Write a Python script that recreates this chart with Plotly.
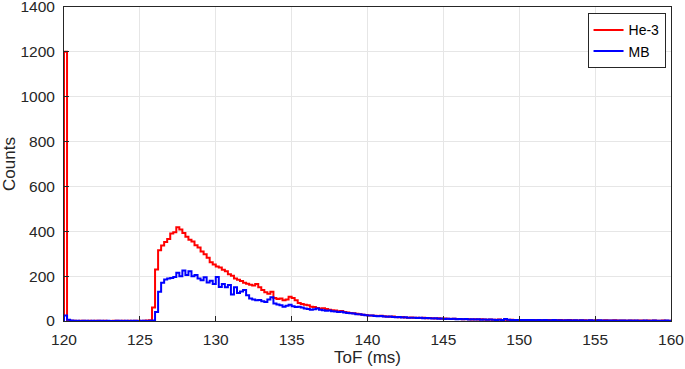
import plotly.graph_objects as go

BIN_START = 120.0
BIN_WIDTH = 0.2

he3_counts = (
    [1200]
    + [2, 1, 1, 0, 1, 1, 0, 1, 0, 1, 1, 0, 1, 0, 0, 1, 1, 0, 1, 0, 1, 0, 1, 1, 0, 1, 2, 3]
    + [60]
    + [230, 315, 337, 352, 366, 390, 396, 418, 408, 392,
       376, 362, 355, 338, 328, 310, 298, 282, 262, 252,
       243, 238, 228, 222, 208, 202, 190, 184, 178, 170,
       166, 162, 158, 165, 150, 138, 128, 122, 130, 102,
       98, 100, 92, 96, 108, 102, 92, 80, 76, 72,
       70, 64, 62, 58, 56, 57, 53, 50, 48, 47,
       44, 45, 40, 38, 36, 34, 32, 30, 28, 27]
    + [25, 24, 23, 22, 23, 21, 20, 19, 20, 18,
       17, 18, 16, 15, 16, 14, 15, 13, 14, 12,
       13, 12, 11, 12, 10, 11, 10, 9, 10, 9,
       9, 8, 9, 8, 7, 8, 7, 8, 7, 6,
       7, 6, 6, 7, 5, 6, 5, 6, 5, 5,
       5, 4, 5, 4, 5, 4, 4, 3, 4, 4,
       3, 4, 3, 4, 3, 3, 4, 3, 3, 2,
       3, 3, 2, 3, 2, 3, 2, 2, 3, 2,
       2, 3, 2, 2, 2, 1, 2, 2, 1, 2,
       2, 1, 2, 1, 2, 1, 1, 2, 1, 1]
)

mb_counts = (
    [25, 6, 2, 1, 1, 0, 1, 1, 0, 1, 0, 1, 1, 0, 1, 0, 0, 1, 1, 0, 1, 0, 1, 1, 0, 1, 1, 0, 1, 2]
    + [40, 130, 170, 185, 190, 192, 196, 215, 200, 225,
       205, 222, 200, 205, 190, 182, 195, 172, 180, 165,
       196, 152, 165, 150, 160, 118, 150, 125, 132, 138,
       115, 100, 96, 92, 94, 88, 85, 96, 106, 78,
       74, 70, 64, 68, 72, 66, 62, 64, 60, 56,
       54, 50, 52, 56, 50, 48, 46, 47, 44, 42,
       40, 41, 38, 36, 34, 33, 30, 30, 28, 26]
    + [24, 25, 22, 21, 22, 20, 19, 20, 18, 17,
       18, 16, 17, 15, 14, 15, 13, 14, 12, 13,
       12, 11, 12, 10, 11, 9, 10, 9, 10, 8,
       9, 8, 9, 7, 8, 7, 8, 6, 7, 6,
       7, 6, 5, 6, 5, 9, 6, 5, 4, 5,
       4, 5, 4, 4, 5, 3, 4, 3, 4, 3,
       3, 4, 3, 3, 2, 3, 3, 2, 3, 2,
       3, 2, 2, 3, 2, 2, 3, 2, 2, 2,
       2, 2, 1, 2, 2, 1, 2, 1, 2, 1,
       1, 2, 1, 1, 2, 1, 1, 1, 2, 1]
)

x_ticks = [120, 125, 130, 135, 140, 145, 150, 155, 160]
y_ticks = [0, 200, 400, 600, 800, 1000, 1200, 1400]

FONT = "Liberation Sans, Arial, Helvetica, sans-serif"
INK = "#262626"


def stairs(counts):
    edges = [round(BIN_START + i * BIN_WIDTH, 3) for i in range(len(counts) + 1)]
    xs = [edges[0]] + edges
    ys = [0] + list(counts) + [counts[-1]]
    return xs, ys


fig = go.Figure()
for name, counts, color in [("He-3", he3_counts, "#ff0000"), ("MB", mb_counts, "#0000ff")]:
    xs, ys = stairs(counts)
    fig.add_trace(go.Scatter(x=xs, y=ys, mode="lines", name=name,
                             line=dict(color=color, width=2, shape="hv")))

axis_common = dict(showline=True, linecolor=INK, linewidth=1, mirror=True,
                   ticks="inside", ticklen=5, tickcolor=INK,
                   showgrid=True, gridcolor="#e6e6e6", gridwidth=1, zeroline=False,
                   automargin=False, ticklabeloverflow="allow",
                   tickfont=dict(family=FONT, size=15.5, color=INK))

fig.update_xaxes(range=[120, 160], tickvals=x_ticks, ticktext=[str(v) for v in x_ticks],
                 ticklabelstandoff=4,
                 title=dict(text="ToF (ms)", font=dict(family=FONT, size=17, color=INK), standoff=2),
                 **axis_common)
fig.update_yaxes(range=[0, 1400], tickvals=y_ticks, ticktext=[str(v) for v in y_ticks],
                 ticklabelstandoff=5,
                 title=dict(text="Counts", font=dict(family=FONT, size=17, color=INK), standoff=6),
                 **axis_common)

fig.update_layout(
    width=685, height=369,
    margin=dict(l=64, r=14, t=7, b=48),
    paper_bgcolor="white", plot_bgcolor="white",
    showlegend=True,
    legend=dict(x=0.991, y=0.98, xanchor="right", yanchor="top",
                bgcolor="white", bordercolor=INK, borderwidth=1,
                font=dict(family=FONT, size=14, color="#000000"),
                tracegroupgap=0, itemwidth=30),
)

fig.write_html("out.html", config={"displayModeBar": False},
               post_script="document.body.style.margin='0';document.body.style.padding='0';document.body.style.overflow='hidden';")
